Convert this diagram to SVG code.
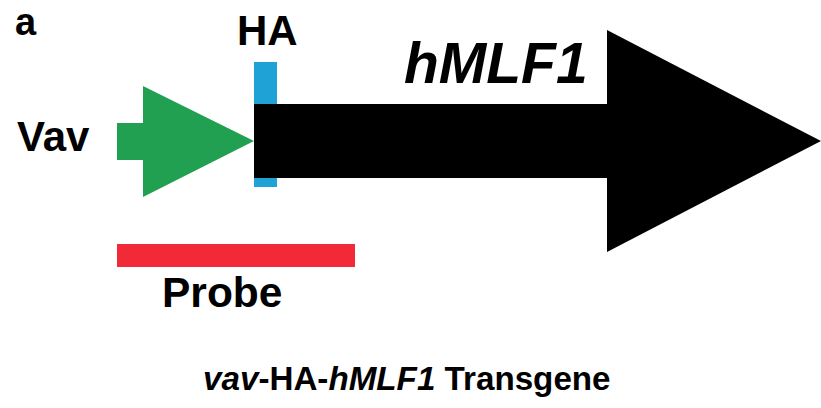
<svg xmlns="http://www.w3.org/2000/svg" width="821" height="408" viewBox="0 0 821 408">
  <style>
    text { font-family: "Liberation Sans", Arial, sans-serif; font-weight: bold; fill: #000; }
    .it { font-style: italic; }
  </style>
  <rect width="821" height="408" fill="#fff"/>

  <text x="15" y="35" style="font-size:38px">a</text>

  <!-- Vav promoter -->
  <g id="vav">
    <polygon points="117,123 143,123 143,86 254,141 143,197 143,160 117,160" fill="#22a052"/>
    <text x="17" y="151" style="font-size:42px">Vav</text>
  </g>

  <!-- HA tag -->
  <g id="ha">
    <rect x="254" y="62" width="23" height="125" fill="#1fa2d6"/>
    <text x="237" y="45" style="font-size:42px">HA</text>
  </g>

  <!-- hMLF1 coding sequence, drawn over the tag -->
  <g id="hmlf1">
    <polygon points="254,104 607,104 607,30 821,141 607,252 607,178 254,178" fill="#000"/>
    <text class="it" x="404" y="83" style="font-size:57px">hMLF1</text>
  </g>

  <!-- probe -->
  <g id="probe">
    <rect x="117" y="244" width="238" height="23" fill="#f22a38"/>
    <text x="162" y="307" style="font-size:42.5px">Probe</text>
  </g>

  <text x="203" y="390" style="font-size:33.2px"><tspan class="it">vav</tspan>-HA-<tspan class="it">hMLF1</tspan> Transgene</text>
</svg>
